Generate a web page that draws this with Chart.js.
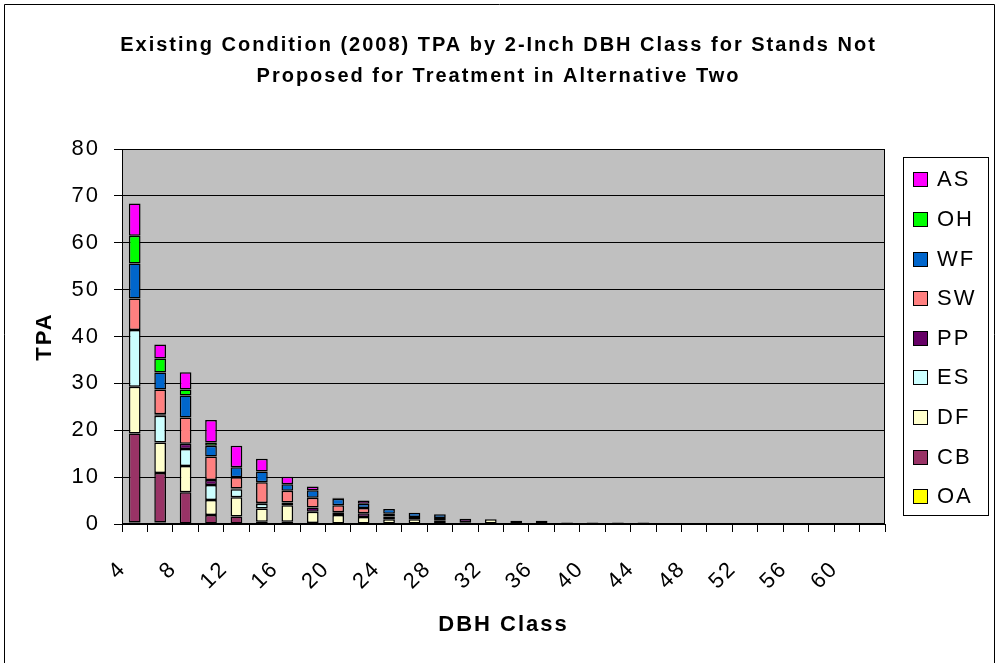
<!DOCTYPE html>
<html>
<head>
<meta charset="utf-8">
<script src="https://cdn.jsdelivr.net/npm/chart.js@4"></script>
<style>
  html, body { margin: 0; padding: 0; background: #ffffff; }
  #wrap { width: 997px; height: 663px; }
</style>
</head>
<body>
<div id="wrap"><canvas id="c" width="997" height="663"></canvas></div>
<script>
// ---- Data ----
const categories = ['4','6','8','10','12','14','16','18','20','22','24','26','28','30','32','34','36','38','40','42','44','46','48','50','52','54','56','58','60','62'];
const shownTickLabels = ['4','8','12','16','20','24','28','32','36','40','44','48','52','56','60'];

const OA = [0.3,0.3,0,0,0,0,0,0,0,0,0,0,0,0,0,0,0,0,0,0,0,0,0,0,0,0,0,0,0,0];
const CB = [19.0,10.6,6.8,1.9,1.6,0.5,0.5,0.2,0,0,0,0,0,0,0,0,0,0,0,0,0,0,0,0,0,0,0,0,0,0];
const DF = [10.0,6.5,5.6,3.2,4.1,2.8,3.5,2.4,1.9,1.5,1.0,1.0,0.7,0.4,1.0,0.7,0.7,0.3,0.3,0.3,0.3,0,0,0,0,0,0,0,0,0];
const ES = [12.1,5.7,3.6,3.2,1.7,1.0,0.5,0,0,0,0,0,0,0,0,0,0,0,0,0,0,0,0,0,0,0,0,0,0,0];
const PP = [0,0.3,1.1,1.1,0.2,0.2,0.1,0.9,0.6,0.8,0.6,0.5,0.6,0.7,0,0,0,0,0,0,0,0,0,0,0,0,0,0,0,0];
const SW = [6.7,5.3,5.6,5.0,2.4,4.4,2.5,2.1,1.5,1.1,0.6,0,0,0,0,0,0,0,0,0,0,0,0,0,0,0,0,0,0,0];
const WF = [7.5,3.6,4.7,2.3,2.1,2.3,1.4,1.6,1.4,0.9,1.0,0.9,0.8,0,0,0,0,0,0,0,0,0,0,0,0,0,0,0,0,0];
const OH = [5.9,3.0,1.3,0.7,0,0,0,0,0,0,0,0,0,0,0,0,0,0,0,0,0,0,0,0,0,0,0,0,0,0];
const AS = [6.9,3.0,3.7,4.8,4.6,2.7,1.6,0.8,0.2,0.7,0,0,0,0,0,0,0,0,0,0,0,0,0,0,0,0,0,0,0,0];

const seriesNames = ['OA','CB','DF','ES','PP','SW','WF','OH','AS'];
const seriesValues = [OA, CB, DF, ES, PP, SW, WF, OH, AS];
const seriesColors = ['#FFFF00','#993366','#FFFFCC','#CCFFFF','#660066','#FF8080','#0066CC','#00FF00','#FF00FF'];

const FONT = '"Liberation Sans", Arial, sans-serif';
const SPACING = '2px';

// ---- Plugins ----
const framePlugin = {
  id: 'frame',
  beforeUpdate(chart) { chart.ctx.letterSpacing = SPACING; },
  beforeDraw(chart) {
    const { ctx, chartArea: a } = chart;
    ctx.save();
    ctx.fillStyle = '#ffffff';
    ctx.fillRect(0, 0, chart.width, chart.height);
    ctx.fillStyle = '#C0C0C0';
    ctx.fillRect(a.left, a.top, a.right - a.left, a.bottom - a.top);
    ctx.restore();
    ctx.letterSpacing = SPACING;
  },
  afterDatasetsDraw(chart) {
    const { ctx, chartArea: a } = chart;
    ctx.save();
    ctx.strokeStyle = '#000000';
    ctx.lineWidth = 1;
    ctx.strokeRect(Math.round(a.left) + 0.5, Math.round(a.top) + 0.5,
                   Math.round(a.right - a.left) - 1, Math.round(a.bottom - a.top) - 1);
    ctx.restore();
  },
  afterDraw(chart) {
    const ctx = chart.ctx;
    ctx.save();
    ctx.strokeStyle = '#000000';
    ctx.lineWidth = 1;
    ctx.beginPath();
    ctx.moveTo(4.5, chart.height + 2);
    ctx.lineTo(4.5, 4.5);
    ctx.lineTo(994.5, 4.5);
    ctx.lineTo(994.5, chart.height + 2);
    ctx.stroke();
    ctx.restore();
  }
};

function drawSideLegend(chart, box) {
  const ctx = chart.ctx;
  const a = chart.chartArea;
  const items = chart.data.datasets.slice().reverse();
  const fx = Math.round(box.left + 18), fy = Math.round(a.top + 8);
  const fw = 85, fh = 358;
  ctx.save();
  ctx.letterSpacing = SPACING;
  ctx.fillStyle = '#ffffff';
  ctx.fillRect(fx, fy, fw, fh);
  ctx.strokeStyle = '#000000';
  ctx.lineWidth = 1;
  ctx.strokeRect(fx + 0.5, fy + 0.5, fw, fh);
  const rowH = 39.6;
  items.forEach((d, i) => {
    const cy = fy + 22.3 + i * rowH;
    const sx = Math.round(box.left + 28), sy = Math.round(cy - 7);
    ctx.fillStyle = d.backgroundColor;
    ctx.fillRect(sx, sy, 14, 14);
    ctx.strokeStyle = '#000000';
    ctx.strokeRect(sx + 0.5, sy + 0.5, 14, 14);
    ctx.fillStyle = '#000000';
    ctx.font = '22px ' + FONT;
    ctx.textAlign = 'left';
    ctx.textBaseline = 'middle';
    ctx.fillText(d.label, box.left + 52, cy + 1);
  });
  ctx.restore();
}

const sideLegendPlugin = {
  id: 'sideLegend',
  beforeInit(chart) {
    const box = {
      position: 'right', weight: 10, fullSize: false, options: {},
      left: 0, top: 0, right: 0, bottom: 0, width: 0, height: 0,
      isHorizontal() { return false; },
      update(maxWidth, maxHeight) { this.width = 112; this.height = maxHeight; },
      getPadding() { return { left: 0, top: 0, right: 0, bottom: 0 }; },
      draw() { drawSideLegend(chart, this); }
    };
    Chart.layouts.addBox(chart, box);
  }
};

// ---- Chart ----
const datasets = seriesNames.map((name, i) => ({
  label: name,
  data: seriesValues[i],
  backgroundColor: seriesColors[i],
  borderColor: '#000000',
  borderWidth: 1.5,
  borderSkipped: false,
  barPercentage: 0.46,
  categoryPercentage: 1.0
}));

new Chart(document.getElementById('c'), {
  type: 'bar',
  data: { labels: categories, datasets },
  options: {
    responsive: false,
    devicePixelRatio: 1,
    animation: false,
    layout: { padding: 0 },
    plugins: {
      legend: { display: false },
      tooltip: { enabled: false },
      title: {
        display: true,
        text: ['Existing Condition (2008) TPA by 2-Inch DBH Class for Stands Not',
               'Proposed for Treatment in Alternative Two'],
        color: '#000000',
        font: { family: FONT, size: 20, weight: 'bold', lineHeight: 1.55 },
        padding: { top: 30, bottom: 57 }
      }
    },
    scales: {
      x: {
        stacked: true,
        offset: true,
        grid: { offset: true, drawOnChartArea: false, drawTicks: true, tickLength: 8, color: '#000000' },
        border: { display: true, color: '#000000' },
        ticks: {
          autoSkip: false, minRotation: 45, maxRotation: 45,
          padding: 24, labelOffset: -12,
          color: '#000000',
          font: { family: FONT, size: 22 },
          callback: (v, i) => (shownTickLabels.includes(categories[i]) ? categories[i] : '')
        },
        title: {
          display: true, text: 'DBH Class', color: '#000000',
          font: { family: FONT, size: 22, weight: 'bold' },
          padding: { top: 0, bottom: 25 }
        },
        afterFit(s) { s.height = 139; }
      },
      y: {
        stacked: true,
        min: 0, max: 80,
        grid: { color: '#000000', tickLength: 8, lineWidth: 1 },
        border: { display: true, color: '#000000' },
        ticks: { stepSize: 10, padding: 14, color: '#000000', font: { family: FONT, size: 22 } },
        title: {
          display: true, text: 'TPA', color: '#000000',
          font: { family: FONT, size: 22, weight: 'bold' },
          padding: { top: 32, bottom: 0 }
        },
        afterFit(s) { s.width = 122; }
      }
    }
  },
  plugins: [framePlugin, sideLegendPlugin]
});
</script>
</body>
</html>
